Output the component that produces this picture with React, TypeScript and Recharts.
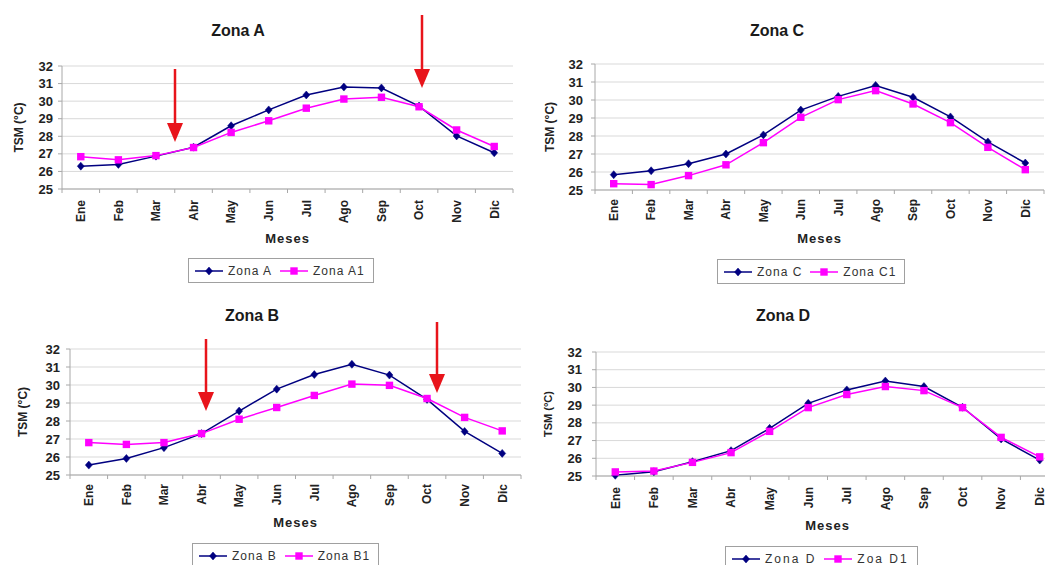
import React from 'react';
import { LineChart, Line, XAxis, YAxis, CartesianGrid } from 'recharts';

const months = ['Ene', 'Feb', 'Mar', 'Abr', 'May', 'Jun', 'Jul', 'Ago', 'Sep', 'Oct', 'Nov', 'Dic'];
const yTicks = [25, 26, 27, 28, 29, 30, 31, 32];

const zonaA = [26.3, 26.4, 26.87, 27.38, 28.6, 29.5, 30.35, 30.8, 30.75, 29.72, 28.02, 27.06];
const zonaA1 = [26.84, 26.66, 26.9, 27.36, 28.22, 28.88, 29.6, 30.12, 30.22, 29.68, 28.36, 27.42];
const zonaB = [25.55, 25.92, 26.52, 27.3, 28.55, 29.77, 30.58, 31.15, 30.55, 29.2, 27.42, 26.2];
const zonaB1 = [26.8, 26.7, 26.8, 27.3, 28.1, 28.75, 29.42, 30.05, 29.98, 29.25, 28.2, 27.45];
const zonaC = [25.85, 26.07, 26.46, 27.0, 28.06, 29.44, 30.2, 30.81, 30.15, 29.06, 27.67, 26.5];
const zonaC1 = [25.35, 25.3, 25.8, 26.4, 27.63, 29.04, 30.02, 30.52, 29.78, 28.74, 27.37, 26.13];
const zonaD = [25.04, 25.24, 25.81, 26.43, 27.69, 29.1, 29.86, 30.36, 30.05, 28.88, 27.09, 25.9];
const zonaD1 = [25.23, 25.28, 25.77, 26.32, 27.52, 28.86, 29.6, 30.05, 29.82, 28.86, 27.18, 26.08];

const NAVY = '#000080';
const MAGENTA = '#ff00ff';
const AXIS = '#a8a8a8';
const GRID = '#d9d9d9';
const FONT = '"Liberation Sans", Arial, sans-serif';

type Panel = {
  title: string;
  s1: number[];
  s2: number[];
  n1: string;
  n2: string;
  left: number;
  top: number;
  width: number;
  height: number;
  mTop: number;
  mRight: number;
  mBottom: number;
  yW: number;
  yTickMargin: number;
  xGap: number;
  titleX: number;
  titleY: number;
  yLabelX: number;
  yLabelSize: number;
  mesesY: number;
  legLeft: number;
  legTop: number;
  legSpacing: number;
};

const panels: Panel[] = [
  {
    title: 'Zona A', s1: zonaA, s2: zonaA1, n1: 'Zona A', n2: 'Zona A1',
    left: 0, top: 0, width: 520, height: 290, mTop: 66, mRight: 7, mBottom: 43, yW: 62, yTickMargin: 5, xGap: 11,
    titleX: 238, titleY: 30, yLabelX: 19, yLabelSize: 12, mesesY: 238, legLeft: 188, legTop: 258, legSpacing: 1,
  },
  {
    title: 'Zona C', s1: zonaC, s2: zonaC1, n1: 'Zona C', n2: 'Zona C1',
    left: 520, top: 0, width: 525, height: 290, mTop: 64, mRight: 1, mBottom: 42, yW: 75, yTickMargin: 8, xGap: 9,
    titleX: 777, titleY: 30, yLabelX: 550, yLabelSize: 12, mesesY: 238, legLeft: 717, legTop: 259, legSpacing: 1,
  },
  {
    title: 'Zona B', s1: zonaB, s2: zonaB1, n1: 'Zona B', n2: 'Zona B1',
    left: 0, top: 290, width: 525, height: 275, mTop: 59, mRight: 4, mBottom: 32, yW: 70, yTickMargin: 6, xGap: 9,
    titleX: 252, titleY: 315, yLabelX: 23, yLabelSize: 12, mesesY: 522, legLeft: 192, legTop: 543, legSpacing: 1,
  },
  {
    title: 'Zona D', s1: zonaD, s2: zonaD1, n1: 'Zona D', n2: 'Zoa D1',
    left: 520, top: 290, width: 545, height: 275, mTop: 62, mRight: 6, mBottom: 31, yW: 76, yTickMargin: 10, xGap: 11,
    titleX: 783, titleY: 315, yLabelX: 548, yLabelSize: 11, mesesY: 525, legLeft: 725, legTop: 546, legSpacing: 2,
  },
];

const Diamond = ({ cx, cy, color }: any) => (
  <path d={`M${cx},${cy - 4}L${cx + 3.5},${cy}L${cx},${cy + 4}L${cx - 3.5},${cy}Z`} fill={color} stroke={color} strokeWidth={0.5} />
);
const Square = ({ cx, cy, color }: any) => (
  <rect x={cx - 3.7} y={cy - 3.7} width={7.4} height={7.4} fill={color} />
);

const makeXTick = (band: number, gap: number) => (props: any) => {
  const { x, y, payload, index } = props;
  const last = index === months.length - 1;
  return (
    <g>
      <line x1={x - band / 2} x2={x - band / 2} y1={y} y2={y + 4} stroke={AXIS} />
      {last && <line x1={x + band / 2} x2={x + band / 2} y1={y} y2={y + 4} stroke={AXIS} />}
      <text
        transform={`translate(${x},${y + gap}) rotate(-90)`}
        textAnchor="end"
        dy="0.36em"
        fontSize={12}
        fontWeight="bold"
        fill="#222"
        fontFamily={FONT}
      >
        {payload.value}
      </text>
    </g>
  );
};

const PanelChart = ({ p }: { p: Panel }) => {
  const data = months.map((m, i) => ({ mes: m, s1: p.s1[i], s2: p.s2[i] }));
  const plotW = p.width - p.yW - p.mRight;
  const band = plotW / months.length;
  return (
    <div style={{ position: 'absolute', left: p.left, top: p.top }}>
      <LineChart
        width={p.width}
        height={p.height}
        data={data}
        margin={{ top: p.mTop, right: p.mRight, bottom: p.mBottom, left: 0 }}
      >
        <CartesianGrid vertical={false} stroke={GRID} />
        <XAxis
          dataKey="mes"
          interval={0}
          height={58}
          padding={{ left: band / 2, right: band / 2 }}
          tickLine={false}
          tickSize={0}
          tickMargin={0}
          axisLine={{ stroke: AXIS }}
          tick={makeXTick(band, p.xGap)}
        />
        <YAxis
          width={p.yW}
          type="number"
          domain={[25, 32]}
          ticks={yTicks}
          interval={0}
          tickSize={4}
          tickMargin={p.yTickMargin}
          axisLine={{ stroke: AXIS }}
          tickLine={{ stroke: AXIS }}
          tick={{ fontSize: 13, fontWeight: 'bold', fill: '#222', fontFamily: FONT }}
        />
        <Line
          dataKey="s1"
          name={p.n1}
          stroke={NAVY}
          strokeWidth={1.5}
          isAnimationActive={false}
          activeDot={false}
          dot={(d: any) => <Diamond key={`a${d.index}`} cx={d.cx} cy={d.cy} color={NAVY} />}
        />
        <Line
          dataKey="s2"
          name={p.n2}
          stroke={MAGENTA}
          strokeWidth={1.5}
          isAnimationActive={false}
          activeDot={false}
          dot={(d: any) => <Square key={`b${d.index}`} cx={d.cx} cy={d.cy} color={MAGENTA} />}
        />
      </LineChart>
    </div>
  );
};

const LegendBox = ({ p }: { p: Panel }) => {
  const item = (name: string, color: string, square: boolean, ml: number) => (
    <div style={{ display: 'flex', alignItems: 'center', marginLeft: ml }}>
      <svg width={28} height={10}>
        <line x1={0} x2={28} y1={5} y2={5} stroke={color} strokeWidth={1.5} />
        {square ? <Square cx={14} cy={5} color={color} /> : <Diamond cx={14} cy={5} color={color} />}
      </svg>
      <span style={{ marginLeft: 5, fontSize: 12, letterSpacing: p.legSpacing, color: '#333', fontFamily: FONT }}>{name}</span>
    </div>
  );
  return (
    <div
      style={{
        position: 'absolute',
        left: p.legLeft,
        top: p.legTop,
        height: 23,
        border: '1px solid #a0a0a0',
        background: '#fff',
        display: 'flex',
        alignItems: 'center',
        paddingRight: 8,
        boxSizing: 'content-box',
      }}
    >
      {item(p.n1, NAVY, false, 6)}
      {item(p.n2, MAGENTA, true, 8)}
    </div>
  );
};

const arrows = [
  { x: 175, y1: 69, head: 123, tip: 142 },
  { x: 422, y1: 15, head: 69, tip: 88 },
  { x: 206, y1: 339, head: 392, tip: 411 },
  { x: 437, y1: 322, head: 374, tip: 393 },
];

export default function App() {
  return (
    <div
      style={{
        position: 'absolute',
        left: 0,
        top: 0,
        width: 1045,
        height: 565,
        overflow: 'hidden',
        background: '#fff',
        fontFamily: FONT,
      }}
    >
      {panels.map((p) => (
        <PanelChart key={p.title} p={p} />
      ))}
      {panels.map((p) => (
        <LegendBox key={`l${p.title}`} p={p} />
      ))}
      <svg width={1045} height={565} style={{ position: 'absolute', left: 0, top: 0, pointerEvents: 'none' }}>
        {panels.map((p) => {
          const plotLeft = p.left + p.yW;
          const plotRight = p.left + p.width - p.mRight;
          const plotTop = p.top + p.mTop;
          const plotBottom = p.top + p.height - p.mBottom - 58;
          return (
            <g key={`t${p.title}`} fontFamily={FONT}>
              <text x={p.titleX} y={p.titleY} textAnchor="middle" dominantBaseline="central" fontSize={16} fontWeight="bold" fill="#1a1a1a">
                {p.title}
              </text>
              <text
                transform={`translate(${p.yLabelX},${(plotTop + plotBottom) / 2}) rotate(-90)`}
                textAnchor="middle"
                dominantBaseline="central"
                fontSize={p.yLabelSize}
                fontWeight="bold"
                fill="#222"
              >
                TSM (°C)
              </text>
              <text
                x={(plotLeft + plotRight) / 2}
                y={p.mesesY}
                textAnchor="middle"
                dominantBaseline="central"
                fontSize={13}
                fontWeight="bold"
                letterSpacing={1}
                fill="#222"
              >
                Meses
              </text>
            </g>
          );
        })}
        {arrows.map((a, i) => (
          <g key={`arr${i}`}>
            <line x1={a.x} x2={a.x} y1={a.y1} y2={a.head + 1} stroke="#e8141b" strokeWidth={2.5} />
            <path d={`M${a.x - 8},${a.head}L${a.x + 8},${a.head}L${a.x},${a.tip}Z`} fill="#e8141b" />
          </g>
        ))}
      </svg>
    </div>
  );
}
